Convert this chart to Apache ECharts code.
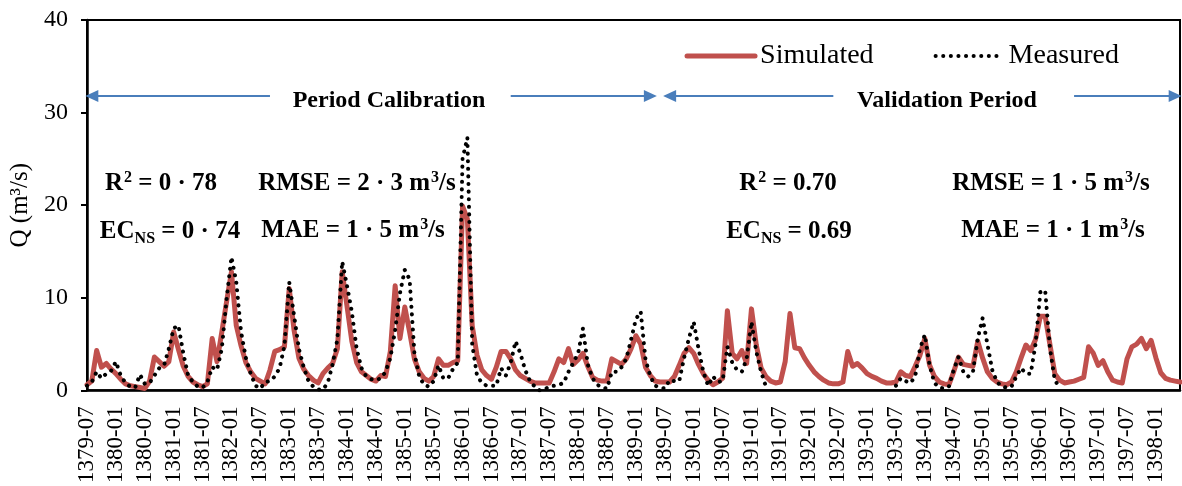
<!DOCTYPE html>
<html>
<head>
<meta charset="utf-8">
<script src="https://cdn.jsdelivr.net/npm/echarts@6/dist/echarts.min.js"></script>
<style>
  body { margin: 0; background: #fff; }
  #chart { width: 1182px; height: 486px; }
</style>
</head>
<body>
<div id="chart"></div>
<script>
// months: 1379-07 .. 1398-06
const startYear = 1379;
const startMonth = 7;
const monthCount = 228;

// one row per water year (07 .. 06)
const simulated = [
  0.6, 1.0, 4.3, 2.5, 2.9, 2.3, 1.8, 1.2, 0.7, 0.5, 0.4, 0.3,
  0.2, 1.0, 3.6, 3.1, 2.6, 3.1, 6.3, 4.4, 2.6, 1.5, 0.9, 0.6,
  0.4, 0.7, 5.6, 3.1, 6.3, 9.6, 12.8, 7.0, 4.8, 3.0, 2.0, 1.3,
  1.0, 0.7, 2.2, 4.2, 4.4, 4.7, 11.0, 6.5, 3.5, 2.3, 1.6, 1.1,
  0.8, 1.8, 2.4, 2.9, 4.5, 12.8, 9.1, 5.3, 3.0, 2.0, 1.6, 1.2,
  1.0, 1.6, 1.5, 4.2, 11.3, 5.6, 9.0, 6.3, 3.4, 2.0, 1.3, 1.0,
  1.5, 3.4, 2.7, 2.7, 3.0, 3.2, 19.9, 18.5, 7.0, 3.8, 2.2, 1.6,
  1.2, 2.5, 4.2, 4.2, 3.4, 2.2, 1.6, 1.3, 1.0, 0.8, 0.8, 0.8,
  0.8, 2.0, 3.4, 3.0, 4.5, 2.8, 3.3, 4.0, 2.6, 1.4, 1.1, 1.0,
  1.0, 3.4, 3.1, 2.8, 3.4, 4.5, 5.9, 5.0, 2.5, 1.6, 1.0, 0.9,
  0.9, 0.9, 1.5, 2.7, 4.0, 4.6, 4.0, 2.8, 1.8, 1.1, 0.6, 0.9,
  1.3, 8.6, 4.0, 3.4, 4.3, 2.9, 8.8, 4.9, 2.4, 1.5, 1.0, 0.8,
  0.9, 3.1, 8.3, 4.6, 4.5, 3.5, 2.7, 2.0, 1.5, 1.1, 0.8, 0.7,
  0.7, 0.9, 4.2, 2.6, 2.9, 2.4, 1.8, 1.5, 1.3, 1.0, 0.8, 0.8,
  0.9, 2.0, 1.6, 1.5, 2.6, 3.8, 5.6, 2.7, 1.5, 0.9, 0.7, 0.6,
  2.0, 3.6, 2.8, 2.7, 2.6, 5.3, 3.5, 2.0, 1.3, 0.9, 0.7, 0.6,
  0.9, 2.0, 3.5, 4.9, 4.3, 5.5, 8.0, 8.0, 4.9, 1.8, 1.1, 0.8,
  0.9, 1.0, 1.2, 1.4, 4.7, 4.0, 2.7, 3.2, 2.0, 1.1, 0.9, 0.8,
  3.4, 4.7, 5.0, 5.6, 4.5, 5.4, 3.5, 1.9, 1.3, 1.1, 1.0, 0.9,
];

// gaps where no observation is plotted
const measured = [
  0.5, 0.9, 2.0, 1.3, 1.8, 2.1, 3.1, 1.6, 0.8, 0.4, 0.3, 1.7,
  0.7, 0.8, 1.6, 2.4, 2.7, 4.5, 6.7, 7.0, 4.0, 1.6, 0.9, 0.4,
  0.3, 0.9, 2.5, 2.2, 4.5, 9.9, 14.4, 11.7, 6.3, 3.5, 1.8, 0.5,
  0.2, 0.9, 1.0, 1.5, 2.4, 4.8, 11.7, 8.1, 4.5, 2.5, 1.0, 0.4,
  0.1, 0.1, 0.8, 2.8, 5.5, 13.9, 11.3, 8.5, 4.5, 2.4, 1.5, 1.2,
  1.1, 1.3, 2.0, 3.5, 6.5, 10.5, 13.0, 12.0, 4.0, 1.5, 0.6, 0.4,
  1.0, 2.7, 1.3, 1.3, 2.3, 3.0, 25.0, 27.3, 5.0, 1.6, 0.8, 0.5,
  0.5, 0.5, 2.4, 1.6, 3.0, 5.3, 4.0, 2.2, 1.0, 0.4, 0.0, 0.1,
  0.4, 0.5, 0.6, 0.8, 2.0, 3.0, 4.0, 6.7, 2.8, 1.3, 0.6, 0.3,
  0.2, 2.0, 2.0, 2.5, 3.4, 5.5, 7.7, 8.5, 3.3, 1.5, 0.5, 0.3,
  0.2, 1.1, 1.0, 1.0, 3.5, 5.6, 7.4, 4.5, 2.0, 0.5, 1.5, 0.9,
  1.0, 4.7, 3.0, 2.2, 2.0, 3.4, 7.4, 4.2, 2.0, 0.4, null, null,
  null, null, null, null, null, null, null, null, null, null, null, null,
  null, null, null, null, null, null, null, null, null, null, null, null,
  0.5, 1.3, 1.0, 0.8, 1.5, 4.5, 6.0, 2.7, 0.8, 0.3, 0.2, 0.4,
  2.2, 3.6, 2.0, 1.5, 2.0, 5.6, 7.8, 5.0, 2.2, 0.9, 0.4, 0.3,
  0.4, 1.5, 2.4, 1.8, 1.8, 5.0, 10.6, 10.8, 4.5, 1.1, 0.3, null,
  null, null, null, null, null, null, null, null, null, null, null, null,
  null, null, null, null, null, null, null, null, null, null, null, null,
];

const yTicks = [0, 10, 20, 30, 40];

// period arrows: [from month index, to month index, arrow at start, arrow at end]
const arrowLevel = 31.8;
const periodArrows = [
  [1, 38, true, false],
  [88, 117, false, true],
  [121, 155, true, false],
  [205, 226, false, true],
];

const periodTitles = [
  { text: "Period Calibration", x: 389, y: 101 },
  { text: "Validation Period", x: 947, y: 101 },
];

const statTexts = [
  { text: "{b|R}{p|2}{b| = 0 · 78}", x: 161, y: 184 },
  { text: "{b|EC}{s|NS}{b| = 0 · 74}", x: 170, y: 232 },
  { text: "{b|RMSE = 2 · 3 m}{p|3}{b|/s}", x: 357, y: 184 },
  { text: "{b|MAE = 1 · 5 m}{p|3}{b|/s}", x: 353, y: 231 },
  { text: "{b|R}{p|2}{b| = 0.70}", x: 788, y: 184 },
  { text: "{b|EC}{s|NS}{b| = 0.69}", x: 789, y: 232 },
  { text: "{b|RMSE = 1 · 5 m}{p|3}{b|/s}", x: 1051, y: 184 },
  { text: "{b|MAE = 1 · 1 m}{p|3}{b|/s}", x: 1053, y: 231 },
];

const months = [];
for (let k = 0; k < monthCount; k++) {
  const m = ((startMonth - 1 + k) % 12) + 1;
  const y = startYear + Math.floor((startMonth - 1 + k) / 12);
  months.push(y + "-" + String(m).padStart(2, "0"));
}

const serif = "Liberation Serif";
const mathRich = {
  b: { fontFamily: serif, fontWeight: "bold", fontSize: 25, lineHeight: 30, fill: "#000" },
  p: { fontFamily: serif, fontWeight: "bold", fontSize: 16, lineHeight: 16, verticalAlign: "top", padding: [1, 0, 0, 1], fill: "#000" },
  s: { fontFamily: serif, fontWeight: "bold", fontSize: 16, lineHeight: 16, verticalAlign: "bottom", fill: "#000" },
};

const arrowData = periodArrows.map((a) => [
  { coord: [months[a[0]], arrowLevel], symbol: a[2] ? "triangle" : "none" },
  { coord: [months[a[1]], arrowLevel], symbol: a[3] ? "triangle" : "none" },
]);

const chart = echarts.init(document.getElementById("chart"));
chart.setOption({
  animation: false,
  grid: {
    left: 87,
    right: 2,
    top: 20,
    bottom: 94,
    show: true,
    borderColor: "#000",
    borderWidth: 2,
  },
  legend: {
    data: ["Simulated", "Measured"],
    right: 58,
    top: 37,
    itemWidth: 68,
    itemHeight: 14,
    itemGap: 60,
    lineStyle: { width: "inherit" },
    itemStyle: { opacity: 0 },
    textStyle: { fontFamily: serif, fontSize: 28, color: "#000" },
  },
  xAxis: {
    type: "category",
    data: months,
    boundaryGap: false,
    axisLine: { lineStyle: { color: "#000", width: 2.5 } },
    axisTick: { show: false },
    axisLabel: {
      interval: 5,
      rotate: 90,
      margin: 16,
      fontFamily: serif,
      fontSize: 23,
      color: "#000",
    },
    splitLine: { show: false },
  },
  yAxis: {
    type: "value",
    min: yTicks[0],
    max: yTicks[yTicks.length - 1],
    interval: 10,
    name: "Q (m³/s)",
    nameLocation: "middle",
    nameGap: 52,
    nameTextStyle: { fontFamily: serif, fontSize: 25, color: "#000" },
    axisLine: { show: true, lineStyle: { color: "#000", width: 2.5 } },
    axisTick: { show: true, length: 6, lineStyle: { color: "#000", width: 2 } },
    axisLabel: { fontFamily: serif, fontSize: 24, color: "#000", margin: 19 },
    splitLine: { show: false },
  },
  series: [
    {
      name: "Simulated",
      type: "line",
      data: simulated,
      symbol: "none",
      lineStyle: { color: "#C0504D", width: 5, cap: "round", join: "round" },
      itemStyle: { color: "#C0504D" },
      markLine: {
        silent: true,
        symbolSize: [12, 13],
        label: { show: false },
        lineStyle: { color: "#4A7EBB", width: 2, type: "solid" },
        itemStyle: { color: "#4A7EBB" },
        emphasis: { disabled: true },
        data: arrowData,
      },
      z: 2,
    },
    {
      name: "Measured",
      type: "line",
      data: measured,
      symbol: "none",
      connectNulls: false,
      lineStyle: { color: "#000", width: 4, type: [0.1, 7.5], cap: "round", join: "round" },
      itemStyle: { color: "#000" },
      z: 3,
    },
  ],
  graphic: [
    ...periodTitles.map((t) => ({
      type: "text",
      x: t.x,
      y: t.y,
      silent: true,
      style: {
        text: t.text,
        fill: "#000",
        font: "bold 24px " + serif,
        align: "center",
        verticalAlign: "middle",
      },
    })),
    ...statTexts.map((t) => ({
      type: "text",
      x: t.x,
      y: t.y,
      silent: true,
      style: {
        text: t.text,
        rich: mathRich,
        align: "center",
        verticalAlign: "middle",
      },
    })),
  ],
});
</script>
</body>
</html>
